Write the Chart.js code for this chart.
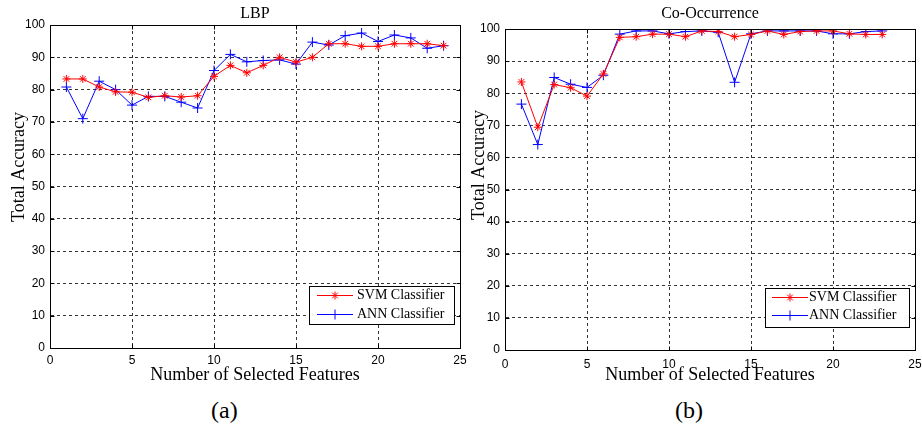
<!DOCTYPE html>
<html>
<head>
<meta charset="utf-8">
<script src="https://cdn.jsdelivr.net/npm/chart.js@4.4.0/dist/chart.umd.min.js"></script>
<style>
  body { margin: 0; background: #fff; width: 922px; height: 430px; position: relative; overflow: hidden; }
  .box { position: absolute; top: 0; height: 395px; }
  .cap { position: absolute; top: 398px; line-height: 24px; font-family: "Liberation Serif", serif; font-size: 24px; color: #000; }
</style>
</head>
<body>
<div class="box" style="left:0;width:480px"><canvas id="lbpChart"></canvas></div>
<div class="box" style="left:465px;width:470px"><canvas id="coChart"></canvas></div>
<div class="cap" style="left:211px">(a)</div>
<div class="cap" style="left:675px">(b)</div>
<script>
// LBP panel (a)
var lbpX = [1, 2, 3, 4, 5, 6, 7, 8, 9, 10, 11, 12, 13, 14, 15, 16, 17, 18, 19, 20, 21, 22, 23, 24];
var lbpSvm = [83.3, 83.3, 80.8, 79.3, 79.2, 77.6, 78.1, 77.7, 78.1, 84.1, 87.5, 85.2, 87.5, 90.0, 88.5, 90.0, 94.2, 94.2, 93.4, 93.4, 94.2, 94.2, 94.2, 93.6];
var lbpAnn = [80.8, 71.0, 82.6, 80.0, 75.2, 77.9, 77.9, 76.1, 74.3, 85.9, 90.9, 88.6, 89.0, 89.2, 87.9, 94.7, 93.8, 96.7, 97.5, 94.9, 96.9, 96.0, 92.8, 93.6];

// Co-Occurrence panel (b)
var coX = [1, 2, 3, 4, 5, 6, 7, 8, 9, 10, 11, 12, 13, 14, 15, 16, 17, 18, 19, 20, 21, 22, 23];
var coSvm = [83.5, 69.4, 82.7, 81.7, 79.1, 86.0, 97.4, 97.6, 98.4, 98.4, 97.6, 99.4, 99.2, 97.6, 98.3, 99.4, 98.3, 99.2, 99.4, 99.4, 98.5, 98.3, 98.3];
var coAnn = [76.6, 64.0, 84.9, 82.8, 81.8, 85.6, 98.4, 99.4, 99.4, 98.5, 99.2, 99.4, 99.0, 83.4, 98.5, 99.4, 99.4, 99.4, 99.4, 98.5, 98.5, 99.2, 99.4];

var seriesNames = ["SVM Classifier", "ANN Classifier"];
var xTitle = "Number of Selected Features";
var yTitle = "Total Accuracy";

// box around the plot with small inward ticks, matlab style
const framePlugin = {
  id: "frame",
  afterDatasetsDraw(chart) {
    const ctx = chart.ctx;
    const a = chart.chartArea;
    const l = Math.round(a.left) + 0.5, t = Math.round(a.top) + 0.5;
    const r = Math.round(a.right) + 0.5, b = Math.round(a.bottom) + 0.5;
    ctx.save();
    ctx.strokeStyle = "#000";
    ctx.lineWidth = 1;
    ctx.strokeRect(l, t, r - l, b - t);
    ctx.beginPath();
    chart.scales.x.ticks.forEach(function (tk) {
      const px = Math.round(chart.scales.x.getPixelForValue(tk.value)) + 0.5;
      ctx.moveTo(px, b); ctx.lineTo(px, b - 4);
      ctx.moveTo(px, t); ctx.lineTo(px, t + 4);
    });
    chart.scales.y.ticks.forEach(function (tk) {
      const py = Math.round(chart.scales.y.getPixelForValue(tk.value)) + 0.5;
      ctx.moveTo(l, py); ctx.lineTo(l + 4, py);
      ctx.moveTo(r, py); ctx.lineTo(r - 4, py);
    });
    ctx.stroke();
    ctx.restore();
  }
};

// panel title over the plot centre and the rotated y title
const panelTextPlugin = {
  id: "panelText",
  afterDraw(chart, args, o) {
    const ctx = chart.ctx;
    const a = chart.chartArea;
    ctx.save();
    ctx.fillStyle = "#000";
    ctx.font = '16px "Liberation Serif"';
    ctx.textAlign = "center";
    ctx.textBaseline = "alphabetic";
    ctx.fillText(o.title, (a.left + a.right) / 2, o.titleBase);
    ctx.font = '18px "Liberation Serif"';
    ctx.translate(o.yTitleBase, o.yTitleMid);
    ctx.rotate(-Math.PI / 2);
    ctx.fillText(yTitle, 0, 0);
    ctx.restore();
  }
};

// legend box inside the lower right corner
const boxLegendPlugin = {
  id: "boxLegend",
  afterDraw(chart, args, o) {
    const ctx = chart.ctx;
    const a = chart.chartArea;
    const x0 = Math.round(a.right - o.right - o.width);
    const y0 = Math.round(a.bottom - o.bottom - o.height);
    ctx.save();
    ctx.fillStyle = "#fff";
    ctx.fillRect(x0, y0, o.width, o.height);
    ctx.strokeStyle = "#000";
    ctx.lineWidth = 1;
    ctx.strokeRect(x0 + 0.5, y0 + 0.5, o.width, o.height);
    ctx.font = '14px "Liberation Serif"';
    ctx.textBaseline = "middle";
    chart.data.datasets.forEach(function (ds, i) {
      const cy = Math.round(y0 + o.rowTop + i * o.rowGap) + 0.5;
      ctx.strokeStyle = ds.borderColor;
      ctx.fillStyle = ds.borderColor;
      ctx.beginPath();
      ctx.moveTo(x0 + o.lineStart, cy);
      ctx.lineTo(x0 + o.lineEnd, cy);
      ctx.stroke();
      Chart.helpers.drawPoint(ctx, { pointStyle: ds.pointStyle, radius: ds.pointRadius, borderWidth: 1, rotation: 0 },
        x0 + (o.lineStart + o.lineEnd) / 2, cy);
      ctx.fillStyle = "#000";
      ctx.fillText(ds.label, x0 + o.textStart, cy);
    });
    ctx.restore();
  }
};

function makeChart(id, title, xs, svm, ann, g) {
  return new Chart(document.getElementById(id), {
    type: "line",
    data: {
      datasets: [
        {
          label: seriesNames[0],
          data: xs.map(function (x, i) { return { x: x, y: svm[i] }; }),
          borderColor: "#ff0000",
          backgroundColor: "#ff0000",
          borderWidth: 1,
          pointStyle: "star",
          pointRadius: 4,
          pointBorderWidth: 1,
          tension: 0
        },
        {
          label: seriesNames[1],
          data: xs.map(function (x, i) { return { x: x, y: ann[i] }; }),
          borderColor: "#0000ff",
          backgroundColor: "#0000ff",
          borderWidth: 1,
          pointStyle: "cross",
          pointRadius: 5,
          pointBorderWidth: 1,
          tension: 0
        }
      ]
    },
    options: {
      responsive: true,
      maintainAspectRatio: false,
      animation: false,
      layout: { padding: { left: 0, right: g.padRight, top: g.top, bottom: 5 } },
      plugins: {
        legend: { display: false },
        tooltip: { enabled: false },
        title: { display: false },
        panelText: { title: title, titleBase: 18, yTitleBase: g.yTitleBase, yTitleMid: g.yTitleMid },
        boxLegend: g.legend
      },
      scales: {
        x: {
          type: "linear",
          min: 0,
          max: 25,
          ticks: { stepSize: 5, color: "#000", padding: g.xTickPad, maxRotation: 0,
            font: { family: "Liberation Sans", size: 12 } },
          grid: { color: "#333", drawTicks: false },
          border: { display: true, color: "#000", dash: [3, 3] },
          title: { display: true, text: xTitle, color: "#000",
            font: { family: "Liberation Serif", size: 18 }, padding: { top: 0, bottom: 4 } },
          afterFit: function (s) { s.height = g.xHeight; }
        },
        y: {
          min: 0,
          max: 100,
          ticks: { stepSize: 10, color: "#000", padding: 5,
            font: { family: "Liberation Sans", size: 12 } },
          grid: { color: "#333", drawTicks: false },
          border: { display: true, color: "#000", dash: [3, 3] },
          afterFit: function (s) { s.width = g.yWidth; }
        }
      }
    },
    plugins: [framePlugin, panelTextPlugin, boxLegendPlugin]
  });
}

makeChart("lbpChart", "LBP", lbpX, lbpSvm, lbpAnn, {
  top: 25, padRight: 20, xTickPad: 5, xHeight: 42, yWidth: 50, yTitleBase: 24, yTitleMid: 167,
  legend: { width: 145, height: 38, right: 6, bottom: 24, rowTop: 9, rowGap: 19, lineStart: 8, lineEnd: 44, textStart: 48 }
});

makeChart("coChart", "Co-Occurrence", coX, coSvm, coAnn, {
  top: 29, padRight: 20, xTickPad: 7, xHeight: 40, yWidth: 40, yTitleBase: 19, yTitleMid: 165,
  legend: { width: 144, height: 39, right: 6, bottom: 23, rowTop: 9, rowGap: 18, lineStart: 7, lineEnd: 43, textStart: 44 }
});
</script>
</body>
</html>
